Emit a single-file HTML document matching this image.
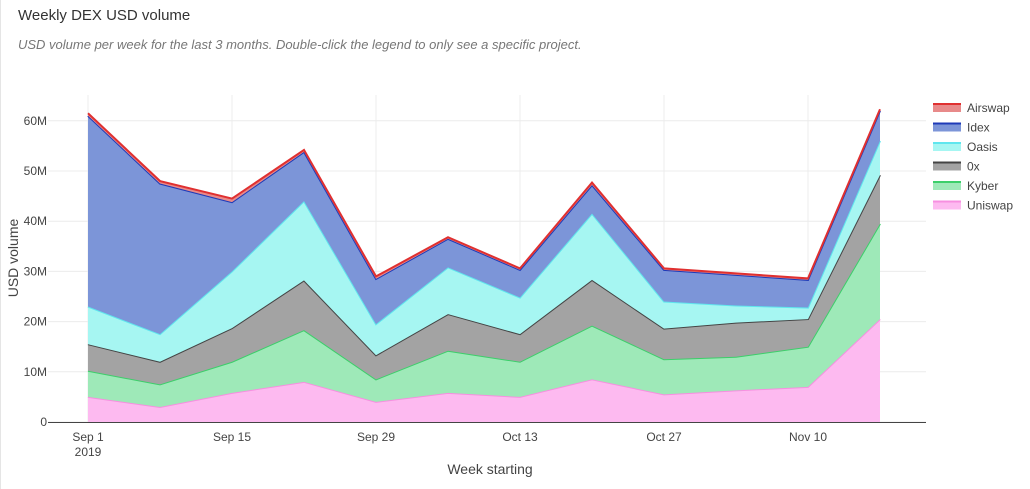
<!DOCTYPE html>
<html><head><meta charset="utf-8"><style>
body{margin:0;background:#fff;font-family:"Liberation Sans",sans-serif;}
#wrap{position:relative;width:1030px;height:489px;overflow:hidden;border-left:1px solid #e5e5e5;box-sizing:border-box}
</style></head><body>
<div id="wrap">
<div style="position:absolute;left:17px;top:7px;font-size:15px;color:#333">Weekly DEX USD volume</div>
<div style="position:absolute;left:17px;top:37px;font-size:13px;font-style:italic;color:#777">USD volume per week for the last 3 months. Double-click the legend to only see a specific project.</div>
<svg id="chart" width="1030" height="489" style="position:absolute;left:0;top:0"></svg>
</div>
<script>
const weeks=["Sep 1","Sep 8","Sep 15","Sep 22","Sep 29","Oct 6","Oct 13","Oct 20","Oct 27","Nov 3","Nov 10","Nov 17"];
const uniswap=[5,3,5.8,8,4,5.8,5,8.5,5.5,6.3,7,20.5];
const kyber=[5.2,4.5,6.2,10.3,4.5,8.4,7,10.7,7,6.7,8,19];
const zerox=[5.3,4.5,6.7,9.9,4.8,7.3,5.5,9.1,6.1,6.8,5.5,9.7];
const oasis=[7.5,5.5,11.3,15.8,6.2,9.3,7.3,13.2,5.4,3.4,2.3,6.8];
const idex=[38,30,13.8,9.8,9,5.7,5.5,5.7,6.3,6.1,5.5,6];
const airswap=[0.5,0.5,0.7,0.4,0.5,0.3,0.3,0.5,0.3,0.3,0.3,0.3];
const yTicks=[0,10,20,30,40,50,60];
const xTickIdx=[0,2,4,6,8,10];
const xTickLabels=["Sep 1","Sep 15","Sep 29","Oct 13","Oct 27","Nov 10"];
const series=[
 {name:"Uniswap",v:uniswap,fill:"#fdbaf0",line:"#f78fe0"},
 {name:"Kyber",v:kyber,fill:"#9ee9b8",line:"#3ccf6a"},
 {name:"0x",v:zerox,fill:"#a3a3a3",line:"#444"},
 {name:"Oasis",v:oasis,fill:"#a6f6f2",line:"#5fe6ee"},
 {name:"Idex",v:idex,fill:"#7c95d8",line:"#1e3ab8"},
 {name:"Airswap",v:airswap,fill:"#e88a8a",line:"#e03030"}];
const X0=87,DX=72,Y0=422,PY=5.02;
const x=i=>X0+i*DX, y=v=>Y0-v*PY;
const svg=document.getElementById('chart'),NS="http://www.w3.org/2000/svg";
function mk(t,a,p){const e=document.createElementNS(NS,t);for(const k in a)e.setAttribute(k,a[k]);(p||svg).appendChild(e);return e;}
yTicks.forEach(t=>{
 const l=mk('line',{x1:47,x2:925,y1:y(t),y2:y(t),stroke:"#ececec"});
 
 const tx=mk('text',{x:46,y:y(t)+4,'text-anchor':'end','font-size':12,fill:'#444'});tx.textContent=t===0?"0":t+"M";
 
});
xTickIdx.forEach((i,k)=>{
 const l=mk('line',{x1:x(i),x2:x(i),y1:95,y2:422,stroke:"#ececec"});
 
 const tx=mk('text',{x:x(i),y:441,'text-anchor':'middle','font-size':12,fill:'#444'});tx.textContent=xTickLabels[k];
 
});
const yr=mk('text',{x:x(0),y:456,'text-anchor':'middle','font-size':12,fill:'#444'});yr.textContent="2019";

let base=weeks.map(()=>0);
series.forEach(s=>{
 const top=base.map((b,i)=>b+s.v[i]);
 let d="M"+top.map((v,i)=>x(i)+","+y(v)).join(" L");
 for(let i=weeks.length-1;i>=0;i--)d+=" L"+x(i)+","+y(base[i]);
 const a=mk('path',{d:d+"Z",fill:s.fill});
 
 const ln=mk('polyline',{points:top.map((v,i)=>x(i)+","+y(v)).join(" "),fill:"none",stroke:s.line,'stroke-width':2});
 
 base=top;
});
const ax=mk('line',{x1:47,x2:925,y1:422.5,y2:422.5,stroke:"#444"});

const xt=mk('text',{x:489,y:474,'text-anchor':'middle','font-size':14,fill:'#444'});xt.textContent="Week starting";

const yt=mk('text',{x:17,y:258,'text-anchor':'middle','font-size':14,fill:'#444',transform:'rotate(-90 17 258)'});yt.textContent="USD volume";

series.slice().reverse().forEach((s,k)=>{
 const g=mk('g',{});
 
 const yy=108+k*19.5;
 mk('rect',{x:932,y:yy-4,width:28,height:8,fill:s.fill},g);
 mk('line',{x1:932,x2:960,y1:yy-4,y2:yy-4,stroke:s.line,'stroke-width':2},g);
 const t=mk('text',{x:966,y:yy+4,'font-size':12,fill:'#444'},g);t.textContent=s.name;
});
</script>
</body></html>
